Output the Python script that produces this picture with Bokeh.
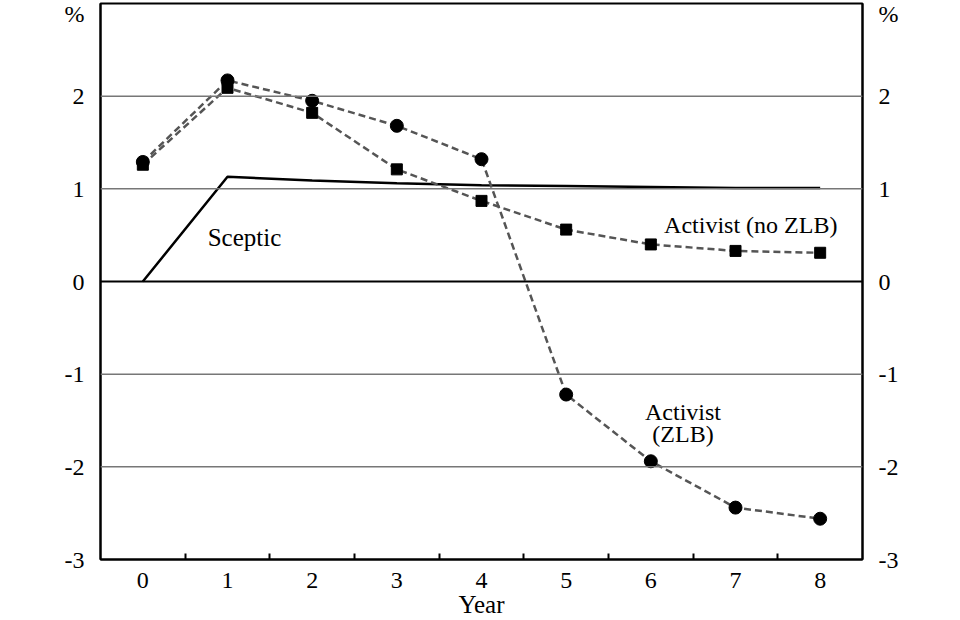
from bokeh.plotting import figure
from bokeh.models import FixedTicker, LinearAxis, Label, Range1d, Span
from bokeh.embed import file_html
from bokeh.resources import INLINE

years = [0, 1, 2, 3, 4, 5, 6, 7, 8]
sceptic = [0.0, 1.13, 1.09, 1.06, 1.04, 1.03, 1.02, 1.01, 1.01]
activist_zlb = [1.29, 2.17, 1.95, 1.68, 1.32, -1.22, -1.94, -2.44, -2.56]
activist_nozlb = [1.26, 2.09, 1.82, 1.21, 0.87, 0.56, 0.40, 0.33, 0.31]
y_ticks = [-3, -2, -1, 0, 1, 2]
y_labels = {-3: "-3", -2: "-2", -1: "-1", 0: "0", 1: "1", 2: "2"}
unit_label = "%"

FONT = "Liberation Serif"

p = figure(width=960, height=620, output_backend="svg", toolbar_location=None,
           x_range=Range1d(-0.5, 8.5), y_range=Range1d(-3, 3),
           min_border_left=100, min_border_right=98, min_border_top=3,
           min_border_bottom=56, y_axis_location=None, x_axis_location=None)
p.outline_line_color = "black"
p.outline_line_width = 2
p.background_fill_color = "white"
p.border_fill_color = "white"

# axes
xax = LinearAxis(ticker=FixedTicker(ticks=years, minor_ticks=[i + 0.5 for i in range(8)]))
xax.major_tick_line_color = None
xax.minor_tick_in = 6
xax.minor_tick_out = 0
xax.minor_tick_line_width = 2
xax.axis_line_width = 2
xax.axis_label = "Year"
xax.axis_label_text_font = FONT
xax.axis_label_text_font_style = "normal"
xax.axis_label_text_font_size = "25px"
xax.axis_label_text_color = "black"
xax.axis_label_standoff = 0
xax.major_label_text_font = FONT
xax.major_label_text_font_size = "24px"
xax.major_label_text_color = "black"
xax.major_label_standoff = 7
p.add_layout(xax, "below")

unit_pos = 2.9
for side in ["left", "right"]:
    overrides = dict(y_labels)
    overrides[unit_pos] = unit_label
    ax = LinearAxis(ticker=FixedTicker(ticks=y_ticks + [unit_pos]),
                    major_label_overrides=overrides)
    ax.major_tick_line_color = None
    ax.minor_tick_line_color = None
    ax.axis_line_width = 2
    ax.major_label_text_font = FONT
    ax.major_label_text_font_size = "24px"
    ax.major_label_text_color = "black"
    ax.major_label_standoff = 10
    p.add_layout(ax, side)

p.xgrid.visible = False
p.ygrid.visible = False
for g in [-2, -1, 1, 2]:
    p.add_layout(Span(location=g, dimension="width", line_color="#777777", line_width=1.5))
p.add_layout(Span(location=0, dimension="width", line_color="black", line_width=2))

# series
p.line(years, sceptic, line_color="black", line_width=2.5)
p.line(years, activist_nozlb, line_color="#555555", line_width=2.5, line_dash="7 4")
p.line(years, activist_zlb, line_color="#555555", line_width=2.5, line_dash="7 4")
p.scatter(years, activist_nozlb, marker="square", size=11, color="black")
p.scatter(years, activist_zlb, marker="circle", size=13, color="black")

def lab(x, y, t, size="24px", **kw):
    p.add_layout(Label(x=x, y=y, text=t, text_font=FONT, text_font_size=size,
                       text_color="black", text_align="center",
                       text_baseline="middle", **kw))

lab(1.2, 0.48, "Sceptic", size="25px")
lab(7.18, 0.61, "Activist (no ZLB)")
lab(6.38, -1.41, "Activist")
lab(6.38, -1.65, "(ZLB)")

open("out.html", "w").write(file_html(p, INLINE))
